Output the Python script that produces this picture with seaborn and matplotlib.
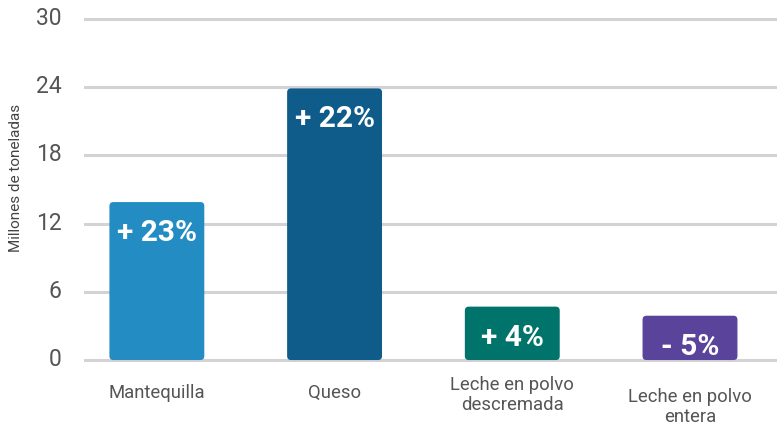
import matplotlib
matplotlib.use("Agg")
import matplotlib.pyplot as plt
import matplotlib.transforms as mtransforms
import seaborn as sns
from matplotlib.patches import FancyBboxPatch

# data
categories = ["Mantequilla", "Queso", "Leche en polvo\ndescremada", "Leche en polvo\nentera"]
values = [13.9, 23.9, 4.7, 3.9]
changes = ["+ 23%", "+ 22%", "+ 4%", "- 5%"]
colors = ["#228CC3", "#0F5B8A", "#00736A", "#5A439B"]
yticks = [0, 6, 12, 18, 24, 30]

sns.set_theme(style="white")
plt.rcParams["font.family"] = ["Roboto", "DejaVu Sans"]

fig = plt.figure(figsize=(7.77, 4.39), dpi=100)
ax = fig.add_axes([0.1081, 0.1724, 0.892, 0.787])

sns.barplot(x=categories, y=values, hue=categories, palette=colors,
            width=0.534, legend=False, ax=ax, saturation=1, zorder=3)

ax.set_xlim(-0.41, 3.49)
ax.set_ylim(-0.2, 30.2)

# swap plain bars for rounded ones
xpx = 693 / 3.9
ypx = 345.6 / 30.4
aspect = xpx / ypx
for p in list(ax.patches):
    x, y = p.get_x(), p.get_y()
    w, h = p.get_width(), p.get_height()
    fc = p.get_facecolor()
    p.remove()
    ax.add_patch(FancyBboxPatch((x, y), w, h,
                                boxstyle="round,pad=0,rounding_size=%f" % (4 / xpx),
                                mutation_aspect=aspect, fc=fc, ec="none",
                                zorder=3))

# change labels inside bars
for i, (v, t) in enumerate(zip(values, changes)):
    ax.annotate(t, xy=(i, v), xytext=(0, -16), textcoords="offset pixels",
                ha="center", va="top", color="white", fontsize=21.5,
                fontweight="bold", zorder=4)

# category labels
label_off = [-32, -32, -34, -46]
for i, (c, off) in enumerate(zip(categories, label_off)):
    ax.annotate(c, xy=(i, 0), xytext=(0, off), textcoords="offset pixels",
                ha="center", va="center", color="#555555", fontsize=13.3,
                linespacing=1.2, annotation_clip=False)

ax.set_xticks([])
ax.set_yticks(yticks)
ax.set_yticklabels([str(t) for t in yticks], color="#555555", fontsize=16.5)
ax.tick_params(axis="y", length=0, pad=16)
shift = mtransforms.ScaledTranslation(0, 4 / 100, fig.dpi_scale_trans)
for lbl in ax.get_yticklabels():
    lbl.set_transform(lbl.get_transform() + shift)
ax.yaxis.grid(True, color="#D3D3D5", linewidth=2.2, zorder=0)
ax.set_axisbelow(True)
for s in ax.spines.values():
    s.set_visible(False)

fig.text(0.02, 0.594, "Millones de toneladas", rotation=90, ha="center",
         va="center", fontsize=11, color="#444444")

fig.savefig("out.png", dpi=100)
